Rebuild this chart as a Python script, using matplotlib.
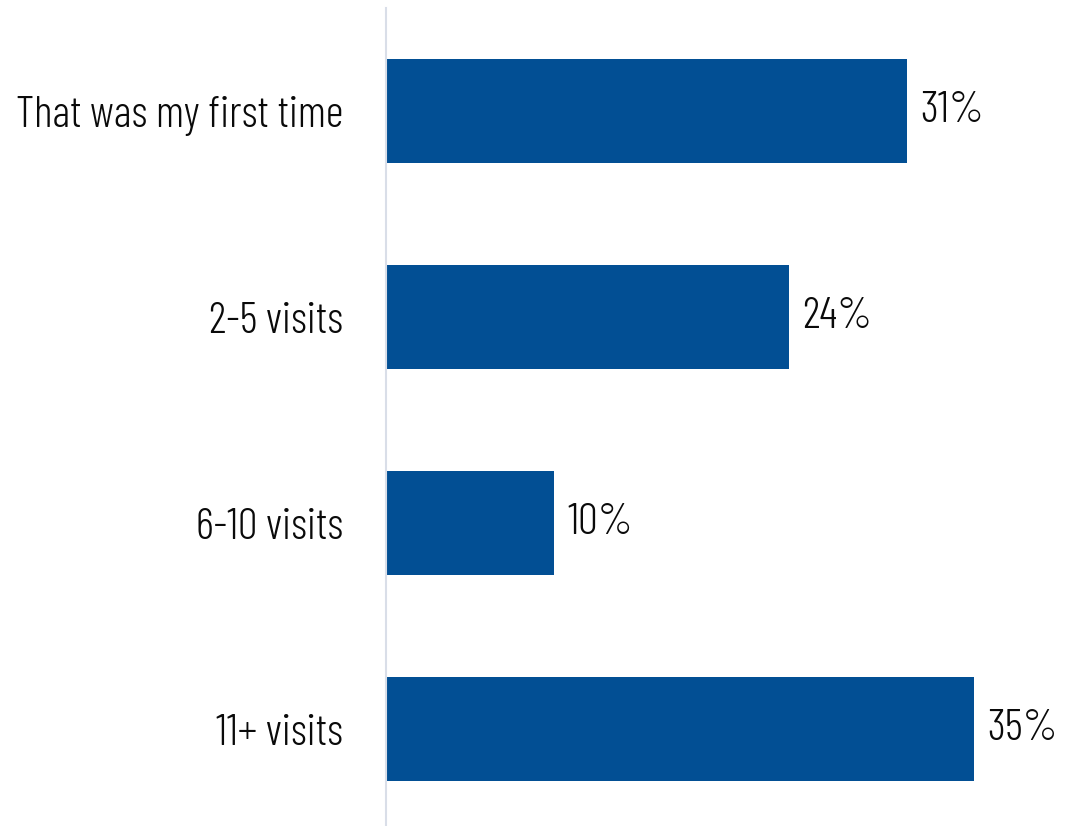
import matplotlib.pyplot as plt

categories = ["That was my first time", "2-5 visits", "6-10 visits", "11+ visits"]
shares = [31, 24, 10, 35]

plt.rcParams['font.family'] = ['Barlow Condensed', 'DejaVu Sans']
plt.rcParams['font.weight'] = 300

fig = plt.figure(figsize=(10.73, 8.26), dpi=100)
ax = fig.add_axes([386 / 1073, 0, 1 - 386 / 1073, 818 / 826])

pos = list(range(len(categories)))
ax.barh(pos, shares, height=0.505, color="#024F94")

# percentage labels just past the end of each bar
for p, v in zip(pos, shares):
    ax.text(v + 0.8, p, f"{v}%", va="center", ha="left", fontsize=32, color="#0a0a0a")

ax.set_yticks(pos)
ax.set_yticklabels(categories, fontsize=31.5, color="#0a0a0a")
ax.tick_params(axis="y", length=0, pad=31)
ax.set_xticks([])
ax.set_xlim(0, 40.9)
ax.set_ylim(3.47, -0.5)

for s in ["top", "right", "bottom"]:
    ax.spines[s].set_visible(False)
ax.spines["left"].set_color("#D9DEE8")
ax.spines["left"].set_linewidth(1.5)

fig.savefig("out.png", dpi=100)
